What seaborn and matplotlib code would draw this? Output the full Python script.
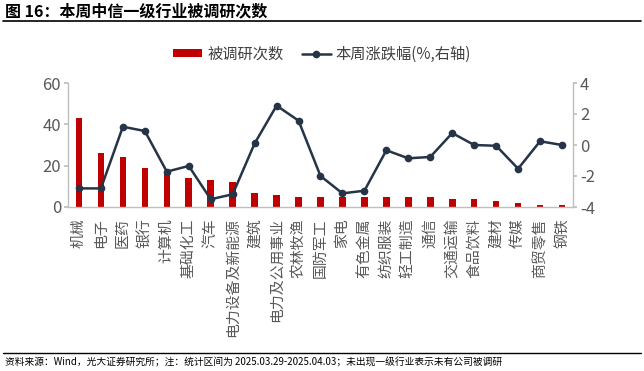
import matplotlib
matplotlib.use("Agg")
import matplotlib.pyplot as plt
import seaborn as sns
import pandas as pd
from matplotlib.lines import Line2D
from matplotlib.patches import Patch

sns.set_theme(style="white")
plt.rcParams['font.family'] = ['Noto Sans CJK SC', 'DejaVu Sans']
plt.rcParams['axes.unicode_minus'] = False

categories = ["机械", "电子", "医药", "银行", "计算机", "基础化工", "汽车", "电力设备及新能源",
              "建筑", "电力及公用事业", "农林牧渔", "国防军工", "家电", "有色金属", "纺织服装",
              "轻工制造", "通信", "交通运输", "食品饮料", "建材", "传媒", "商贸零售", "钢铁"]
survey_counts = [43, 26, 24, 19, 17, 14, 13, 12, 7, 6, 5, 5, 5, 5, 5, 5, 5, 4, 4, 3, 2, 1, 1]
weekly_change = [-2.8, -2.8, 1.18, 0.9, -1.72, -1.35, -3.5, -3.18, 0.1, 2.54, 1.57, -2.0,
                 -3.12, -2.95, -0.34, -0.86, -0.77, 0.77, 0.0, -0.05, -1.53, 0.24, 0.0]
left_ticks = [0, 20, 40, 60]
right_ticks = [-4, -2, 0, 2, 4]

df = pd.DataFrame({"industry": categories, "count": survey_counts, "chg": weekly_change})

bar_color = "#C00000"
line_color = "#263448"
tick_color = "#595959"
spine_color = "#BFBFBF"

fig = plt.figure(figsize=(6.44, 3.71), dpi=100)
ax = fig.add_axes([68/644, 1-207/371, (573-68)/644, (207-83)/371])

sns.barplot(data=df, x="industry", y="count", color=bar_color, width=0.3,
            saturation=1, linewidth=0, ax=ax, zorder=2)
ax.set_xlim(-0.5, len(categories)-0.5)
ax.set_ylim(0, 60)
ax.set_yticks(left_ticks)
ax.set_xlabel("")
ax.set_ylabel("")

ax2 = ax.twinx()
sns.lineplot(x=list(range(len(categories))), y=weekly_change, ax=ax2, color=line_color,
             linewidth=1.8, marker="o", markersize=5.5, markeredgewidth=0, zorder=3)
ax2.set_ylim(-4, 4)
ax2.set_yticks(right_ticks)
ax2.set_xlim(-0.5, len(categories)-0.5)

for a in (ax, ax2):
    a.spines["top"].set_visible(False)
    for s in ["left", "right", "bottom"]:
        a.spines[s].set_color(spine_color)
        a.spines[s].set_linewidth(1.0)
ax.spines["right"].set_visible(False)
ax2.spines["left"].set_visible(False)
ax2.spines["bottom"].set_visible(False)

ax.tick_params(axis="y", left=True, length=3, color=spine_color, labelsize=12,
               labelcolor=tick_color, pad=2)
ax.tick_params(axis="x", bottom=False, labelsize=10.7, labelcolor=tick_color, pad=2)
ax2.tick_params(axis="y", right=True, length=3, color=spine_color, labelsize=12,
                labelcolor=tick_color, pad=2)
ax.set_xticks(range(len(categories)))
ax.set_xticklabels(categories, rotation=90, va="top", ha="center")

handles = [Patch(facecolor=bar_color, edgecolor="none"),
           Line2D([0], [0], color=line_color, linewidth=1.8, marker="o", markersize=4.5)]
fig.legend(handles, ["被调研次数", "本周涨跌幅(%,右轴)"], loc="center",
           bbox_to_anchor=(322/644, 1-54/371), ncol=2, frameon=False,
           fontsize=11, handlelength=1.9, handleheight=0.45, columnspacing=1.2,
           handletextpad=0.3, labelcolor="#404040")

fig.text(5/644, 1-11/371, "图 16：本周中信一级行业被调研次数", fontsize=11.5,
         fontweight="bold", va="center", ha="left", color="#000000")
fig.add_artist(Line2D([3/644, 641/644], [1-21/371, 1-21/371], color="#000000", linewidth=1.2))
fig.add_artist(Line2D([3/644, 641/644], [1-353/371, 1-353/371], color="#000000", linewidth=1.0))
fig.text(5/644, 1-362/371,
         "资料来源：Wind，光大证券研究所；注：统计区间为 2025.03.29-2025.04.03；未出现一级行业表示未有公司被调研",
         fontsize=7, va="center", ha="left", color="#000000")

fig.savefig("out.png", dpi=100)
